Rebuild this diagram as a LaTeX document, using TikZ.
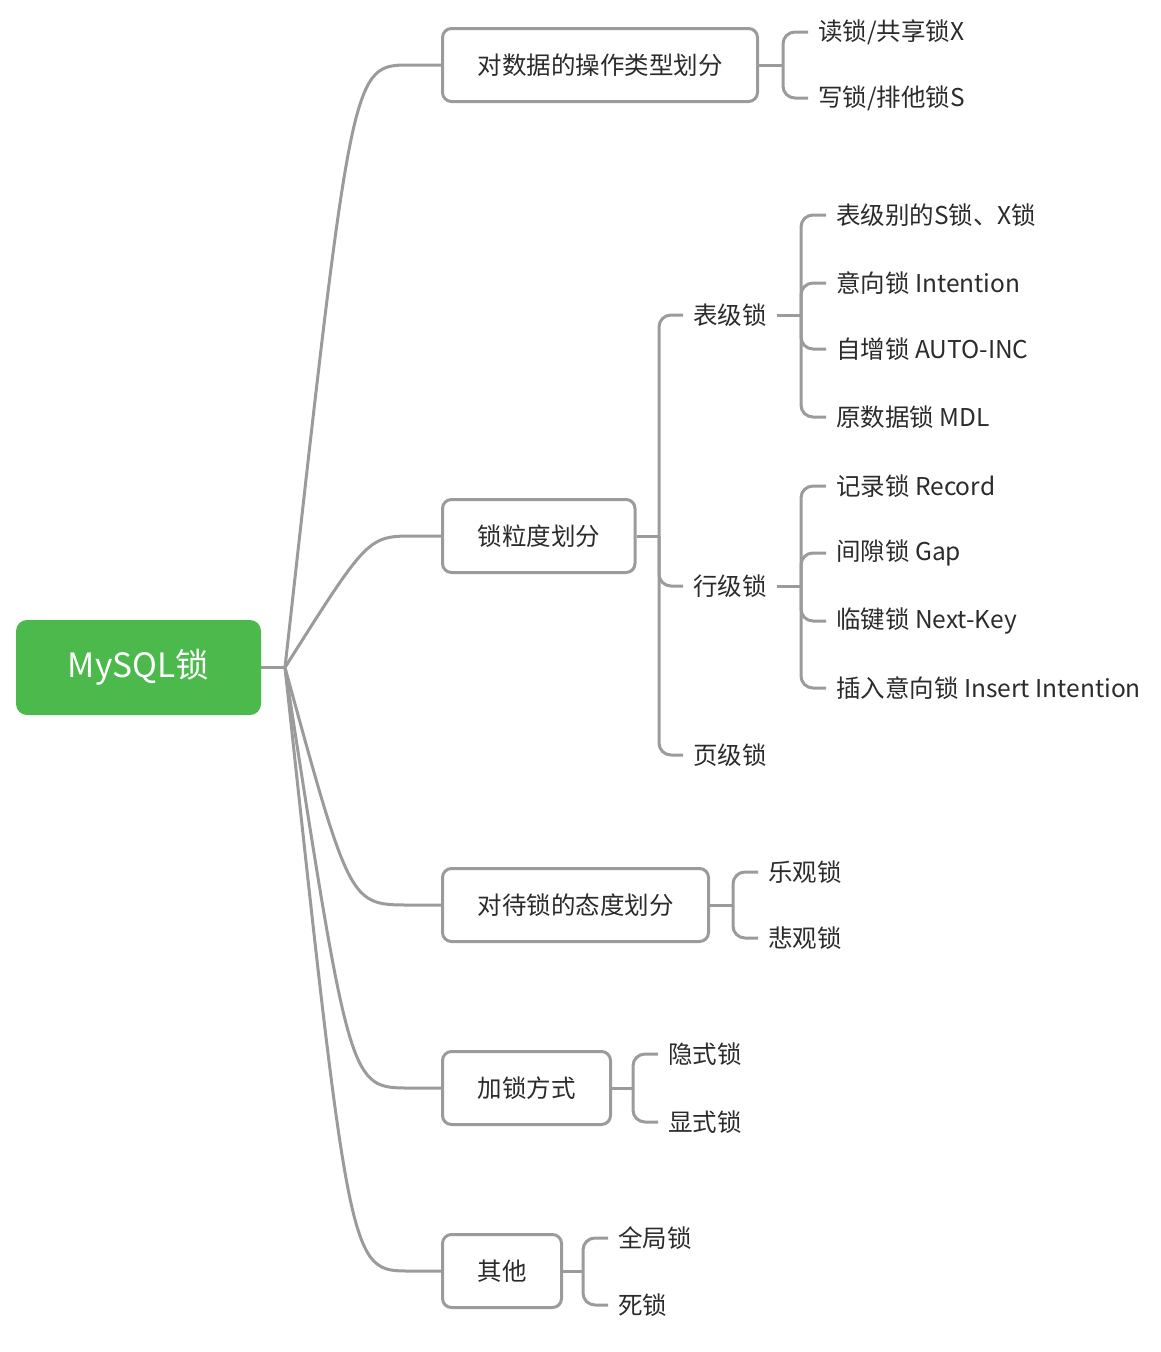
\documentclass[tikz,border=0pt]{standalone}
\usepackage{fontspec}
\setmainfont{Noto Sans CJK SC}
\definecolor{linegray}{HTML}{9B9B9B}
\definecolor{rootgreen}{HTML}{4BB94B}
\definecolor{textc}{HTML}{2B2B2B}
\begin{document}
\begin{tikzpicture}[x=1pt,y=-1pt,
  conn/.style={draw=linegray, line width=3pt},
  brk/.style={draw=linegray, line width=3pt, rounded corners=12pt},
  rootbox/.style={fill=rootgreen, rounded corners=11pt, minimum width=245pt, minimum height=95pt, text=white, font=\fontsize{33.5}{40}\selectfont},
  branchbox/.style={draw=linegray, line width=3pt, fill=white, rounded corners=9pt, minimum height=73pt, inner xsep=35pt, font=\fontsize{24.5}{30}\selectfont, text=textc, anchor=west},
  leaf/.style={anchor=west, inner xsep=10pt, inner ysep=2pt, font=\fontsize{24.5}{30}\selectfont, text=textc}
]
\useasboundingbox (0,0) rectangle (1160,1352);

% root
\node[rootbox] (root) at (138.5,667.5) {MySQL锁};
\coordinate (hub) at (285,667.5);
\draw[conn] (root.east) -- (hub);

% branches
\node[branchbox] (b1) at (441,65) {对数据的操作类型划分};
\node[branchbox] (b2) at (441,536) {锁粒度划分};
\node[branchbox] (b3) at (441,905) {对待锁的态度划分};
\node[branchbox] (b4) at (441,1088) {加锁方式};
\node[branchbox] (b5) at (441,1271) {其他};

\draw[conn] (hub) .. controls (352,65) .. (410,65) -- (b1.west);
\draw[conn] (hub) .. controls (368,536) .. (415,536) -- (b2.west);
\draw[conn] (hub) .. controls (350,905) .. (410,905) -- (b3.west);
\draw[conn] (hub) .. controls (350,1088) .. (410,1088) -- (b4.west);
\draw[conn] (hub) .. controls (350,1271) .. (410,1271) -- (b5.west);

% branch 1 children
\coordinate (j1) at (783,65);
\node[leaf] (c11) at (808,32) {读锁/共享锁X};
\node[leaf] (c12) at (808,98) {写锁/排他锁S};
\draw[conn] (b1.east) -- (j1);
\draw[brk] (j1) |- (c11.west);
\draw[brk] (j1) |- (c12.west);

% branch 2 children
\coordinate (j2) at (659,536);
\node[leaf] (c21) at (683,315) {表级锁};
\node[leaf] (c22) at (683,586) {行级锁};
\node[leaf] (c23) at (683,755) {页级锁};
\draw[conn] (b2.east) -- (j2);
\draw[brk] (j2) |- (c21.west);
\draw[brk] (j2) |- (c22.west);
\draw[brk] (j2) |- (c23.west);

% table-level locks
\coordinate (j21) at (801,315);
\node[leaf] (t1) at (826,215) {表级别的S锁、X锁};
\node[leaf] (t2) at (826,283) {意向锁 Intention};
\node[leaf] (t3) at (826,349) {自增锁 AUTO-INC};
\node[leaf] (t4) at (826,417) {原数据锁 MDL};
\draw[conn] (c21.east) -- (j21);
\draw[brk] (j21) |- (t1.west);
\draw[brk] (j21) |- (t2.west);
\draw[brk] (j21) |- (t3.west);
\draw[brk] (j21) |- (t4.west);

% row-level locks
\coordinate (j22) at (801,586);
\node[leaf] (r1) at (826,486) {记录锁 Record};
\node[leaf] (r2) at (826,553) {间隙锁 Gap};
\node[leaf] (r3) at (826,621) {临键锁 Next-Key};
\node[leaf] (r4) at (826,688) {插入意向锁 Insert Intention};
\draw[conn] (c22.east) -- (j22);
\draw[brk] (j22) |- (r1.west);
\draw[brk] (j22) |- (r2.west);
\draw[brk] (j22) |- (r3.west);
\draw[brk] (j22) |- (r4.west);

% branch 3 children
\coordinate (j3) at (733,905);
\node[leaf] (c31) at (758,872) {乐观锁};
\node[leaf] (c32) at (758,938) {悲观锁};
\draw[conn] (b3.east) -- (j3);
\draw[brk] (j3) |- (c31.west);
\draw[brk] (j3) |- (c32.west);

% branch 4 children
\coordinate (j4) at (633,1088);
\node[leaf] (c41) at (658,1054) {隐式锁};
\node[leaf] (c42) at (658,1122) {显式锁};
\draw[conn] (b4.east) -- (j4);
\draw[brk] (j4) |- (c41.west);
\draw[brk] (j4) |- (c42.west);

% branch 5 children
\coordinate (j5) at (583,1271);
\node[leaf] (c51) at (608,1238) {全局锁};
\node[leaf] (c52) at (608,1305) {死锁};
\draw[conn] (b5.east) -- (j5);
\draw[brk] (j5) |- (c51.west);
\draw[brk] (j5) |- (c52.west);
\end{tikzpicture}
\end{document}
